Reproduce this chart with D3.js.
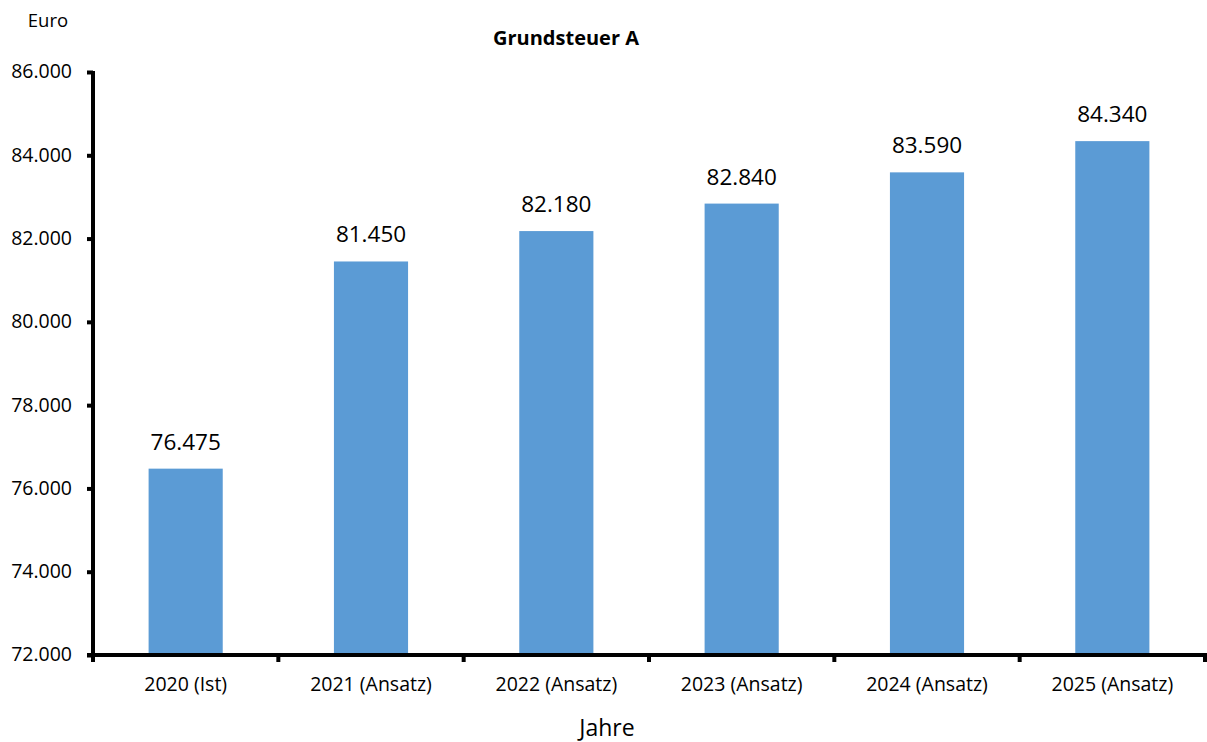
<!DOCTYPE html>
<html><head><meta charset="utf-8">
<script src="https://cdn.jsdelivr.net/npm/d3@7"></script>
<style>body{margin:0;background:#fff;font-family:"Open Sans","Noto Sans",sans-serif;}</style>
</head><body><svg id="c" width="1207" height="742"></svg>
<script>
const categories = ["2020 (Ist)","2021 (Ansatz)","2022 (Ansatz)","2023 (Ansatz)","2024 (Ansatz)","2025 (Ansatz)"];
const values = [76475, 81450, 82180, 82840, 83590, 84340];
const valueLabels = ["76.475","81.450","82.180","82.840","83.590","84.340"];
const yTicks = [72000,74000,76000,78000,80000,82000,84000,86000];

(function(){
const svg = d3.select("#c");
const mLeft = 93, mRight = 1205, mTop = 72, mBottom = 655;
const x = d3.scaleBand().domain(categories).range([mLeft, mRight]).paddingInner(0.6).paddingOuter(0.3);
const y = d3.scaleLinear().domain([72000, 86000]).range([mBottom, mTop]);
const fmt = d => d3.format(",")(d).replace(/,/g, ".");

svg.selectAll("rect.bar").data(values).enter().append("rect")
  .attr("x", (d,i) => x(categories[i])).attr("width", x.bandwidth())
  .attr("y", d => y(d)).attr("height", d => y(72000) - y(d))
  .attr("fill", "#5b9bd5");

svg.selectAll("text.lbl").data(values).enter().append("text")
  .attr("x", (d,i) => x(categories[i]) + x.bandwidth()/2)
  .attr("y", d => y(d) - 19)
  .attr("text-anchor", "middle").style("font-size", "22.5px").attr("fill", "#000")
  .text((d,i) => valueLabels[i]);

const yAxis = svg.append("g").attr("transform", `translate(${mLeft},0)`)
  .call(d3.axisLeft(y).tickValues(yTicks).tickFormat(fmt).tickSize(6).tickPadding(15));
yAxis.attr("font-size", null).attr("font-family", null);
yAxis.select(".domain").attr("stroke-width", 4).attr("d", `M0,${mTop-1}V${mBottom+2}`);
yAxis.selectAll(".tick line").attr("stroke-width", 4);
yAxis.selectAll("text").style("font-size", "19.5px").attr("fill", "#000").attr("dy", "0.3em");

const stepW = (mRight - mLeft) / categories.length;
const xAxis = svg.append("g").attr("transform", `translate(0,${mBottom})`);
xAxis.append("path").attr("d", `M${mLeft-6},0H${mRight+2}`).attr("stroke", "#000").attr("stroke-width", 4);
xAxis.selectAll("line").data(d3.range(categories.length + 1)).enter().append("line")
  .attr("x1", i => mLeft + i*stepW).attr("x2", i => mLeft + i*stepW)
  .attr("y1", 0).attr("y2", 7).attr("stroke", "#000").attr("stroke-width", 4);
xAxis.selectAll("text").data(categories).enter().append("text")
  .attr("x", d => x(d) + x.bandwidth()/2).attr("y", 36)
  .attr("text-anchor", "middle").style("font-size", "19.5px").attr("fill", "#000").text(d => d);

svg.append("text").attr("x", 48).attr("y", 27).attr("text-anchor", "middle").style("font-size", "18.5px").text("Euro");
svg.append("text").attr("x", 566).attr("y", 45).attr("text-anchor", "middle").style("font-size", "20px").attr("font-weight", "bold").text("Grundsteuer A");
svg.append("text").attr("x", 607).attr("y", 736).attr("text-anchor", "middle").style("font-size", "23px").text("Jahre");
})();
</script></body></html>
